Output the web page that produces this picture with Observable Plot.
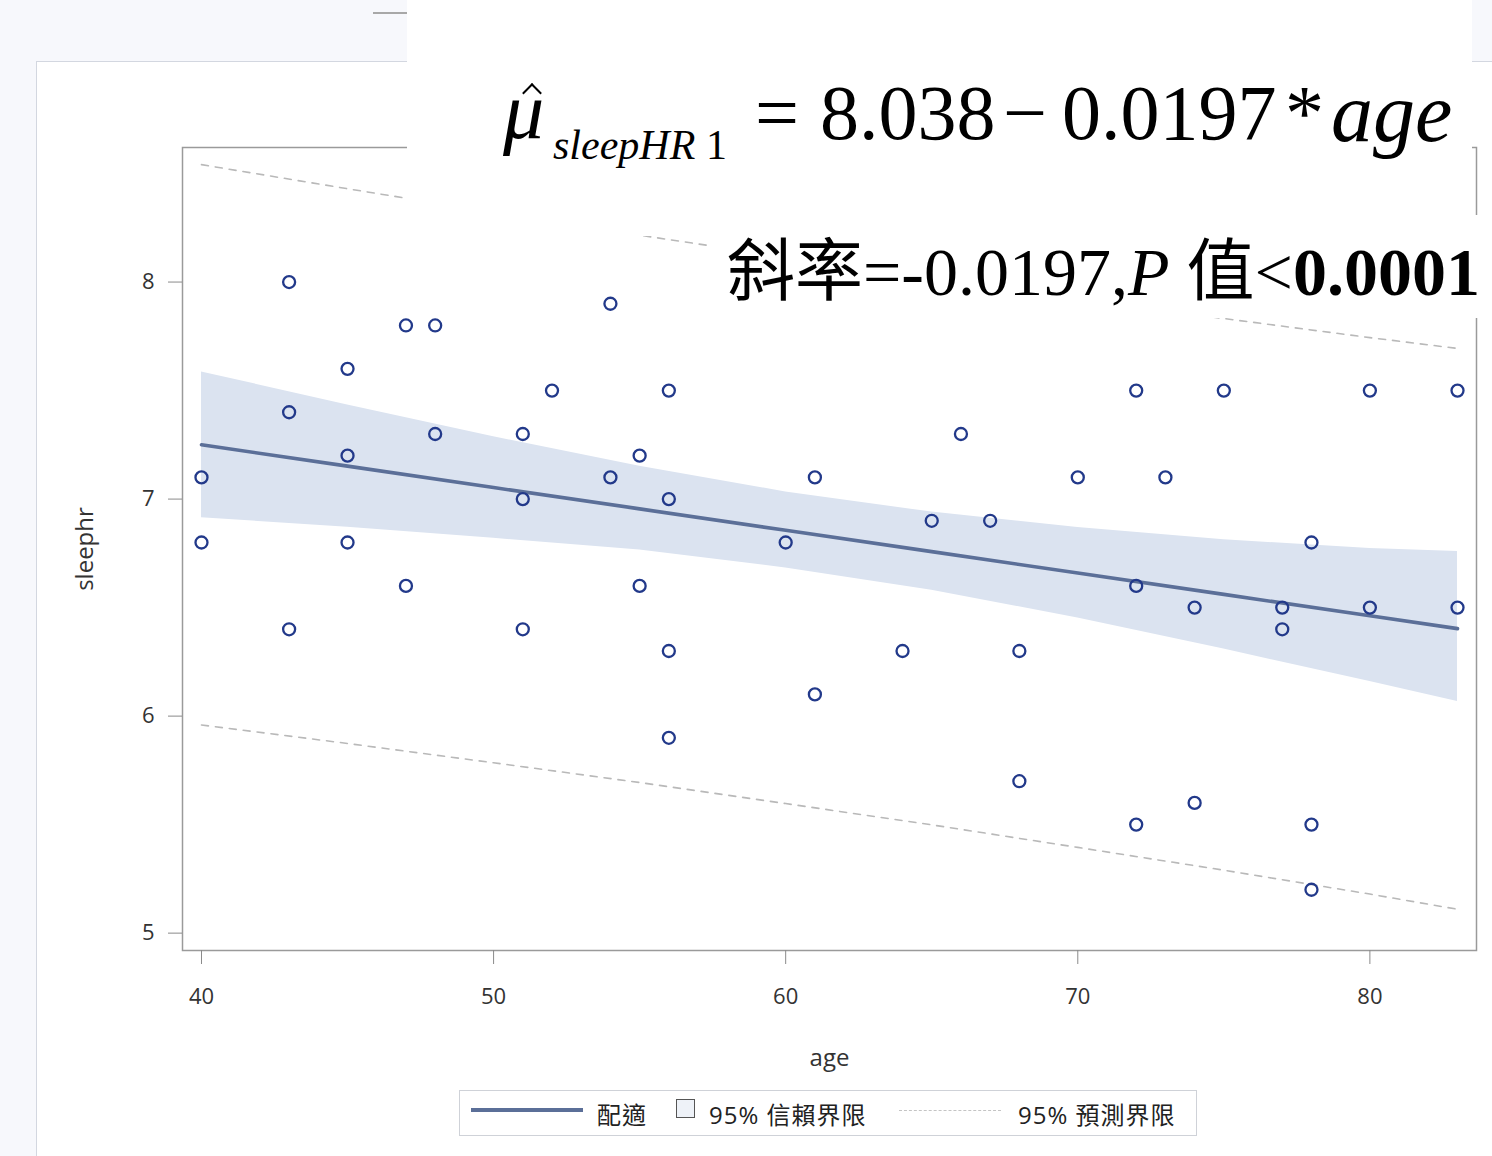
<!DOCTYPE html>
<html>
<head>
<meta charset="utf-8">
<script src="https://cdn.jsdelivr.net/npm/d3@7"></script>
<script src="https://cdn.jsdelivr.net/npm/@observablehq/plot@0.6"></script>
<style>
  html, body { margin: 0; padding: 0; }
  body { width: 1492px; height: 1156px; background: #f7f8fc; position: relative; overflow: hidden; font-family: "Open Sans", "Noto Sans CJK TC", sans-serif; }
  #outer { position: absolute; left: 36px; top: 61px; width: 1500px; height: 1200px; background: #fff; border-left: 1.5px solid #d3d7e0; border-top: 1.5px solid #d3d7e0; }
  #chart { position: absolute; left: 0; top: 0; }
  .box { position: absolute; background: #fff; }
  .ser { font-family: "Liberation Serif", "Noto Sans CJK TC", serif; color: #000; position: absolute; white-space: nowrap; line-height: 1; }
  #legend { position: absolute; left: 459px; top: 1090px; width: 736px; height: 44px; border: 1.5px solid #cfd2d8; background: #fff; font-family: "Open Sans", "Noto Sans CJK TC", sans-serif; font-size: 24px; color: #222; }
  #legend .t { position: absolute; top: 5px; white-space: nowrap; letter-spacing: 1px; }
</style>
</head>
<body>
<div id="outer"></div>
<div class="box" style="left:373px;top:12px;width:34px;height:2px;background:#a8a8a8"></div>
<div id="chart"></div>

<script>
// observed data (age, sleephr)
const ages = [40,40,43,43,43,45,45,45,47,47,48,48,51,51,51,52,54,54,55,55,56,56,56,56,60,61,61,64,65,66,67,68,68,70,72,72,72,73,74,74,75,77,77,78,78,78,80,80,83,83];
const sleephr = [7.1,6.8,8.0,7.4,6.4,7.6,7.2,6.8,7.8,6.6,7.8,7.3,7.3,7.0,6.4,7.5,7.9,7.1,7.2,6.6,7.5,7.0,6.3,5.9,6.8,7.1,6.1,6.3,6.9,7.3,6.9,6.3,5.7,7.1,7.5,6.6,5.5,7.1,6.5,5.6,7.5,6.5,6.4,6.8,5.5,5.2,7.5,6.5,7.5,6.5];

// fitted line and limits
const bandAge  = [40, 45, 50, 55, 60, 65, 70, 75, 80, 83];
const fitValue = [7.250, 7.152, 7.053, 6.955, 6.856, 6.758, 6.659, 6.561, 6.462, 6.403];
const clUpper  = [7.586, 7.434, 7.287, 7.151, 7.033, 6.940, 6.869, 6.813, 6.772, 6.758];
const clLower  = [6.914, 6.870, 6.819, 6.765, 6.683, 6.580, 6.452, 6.309, 6.159, 6.067];
const piUpper  = [8.541, 8.430, 8.321, 8.216, 8.115, 8.017, 7.923, 7.832, 7.744, 7.694];
const piLower  = [5.959, 5.874, 5.785, 5.694, 5.597, 5.499, 5.395, 5.290, 5.180, 5.110];

const xTicks = [40, 50, 60, 70, 80];
const yTicks = [5, 6, 7, 8];

const points = ages.map((a, i) => ({age: a, sleephr: sleephr[i]}));
const band = bandAge.map((a, i) => ({age: a, fit: fitValue[i], clU: clUpper[i], clL: clLower[i], piU: piUpper[i], piL: piLower[i]}));

const plot = Plot.plot({
  width: 1492,
  height: 1156,
  marginLeft: 182,
  marginRight: 16,
  marginTop: 147,
  marginBottom: 206,
  style: {background: "transparent", color: "#333", fontFamily: "'Open Sans', sans-serif", overflow: "visible"},
  x: {domain: [39.35, 83.65]},
  y: {domain: [4.92, 8.62]},
  marks: [
    Plot.areaY(band, {x: "age", y1: "clL", y2: "clU", fill: "#dbe3f0"}),
    Plot.lineY(band, {x: "age", y: "piU", stroke: "#b9b9b9", strokeWidth: 1.6, strokeDasharray: "7,7"}),
    Plot.lineY(band, {x: "age", y: "piL", stroke: "#b9b9b9", strokeWidth: 1.6, strokeDasharray: "7,7"}),
    Plot.lineY(band, {x: "age", y: "fit", stroke: "#5b6f98", strokeWidth: 3.6}),
    Plot.dot(points, {x: "age", y: "sleephr", r: 6, stroke: "#22398a", strokeWidth: 2.3, fill: "none"}),
    Plot.frame({stroke: "#9a9a9a", strokeWidth: 1.5}),
    Plot.axisX({ticks: xTicks, tickFormat: d => String(d), tickSize: 14, tickPadding: 24, fontSize: 22, label: null, stroke: "#8a8a8a", fill: "#333"}),
    Plot.axisY({ticks: yTicks, tickFormat: d => String(d), tickSize: 14, tickPadding: 14, fontSize: 22, label: null, stroke: "#8a8a8a", fill: "#333"}),
    Plot.text(["age"], {frameAnchor: "bottom", dy: 108, fontSize: 24, fill: "#333", lineAnchor: "middle", textAnchor: "middle"}),
    Plot.text(["sleephr"], {frameAnchor: "left", dx: -97, rotate: -90, fontSize: 24, fill: "#333", lineAnchor: "middle", textAnchor: "middle"})
  ]
});
document.getElementById("chart").appendChild(plot);
</script>

<div class="box" style="left:407px;top:0px;width:1065px;height:236px;">
  <span class="ser" style="left:96px;top:70px;font-size:82px;font-style:italic;">μ</span>
  <div style="position:absolute;left:118px;top:86px;width:12px;height:12px;border-top:2.5px solid #000;border-left:2.5px solid #000;transform:rotate(45deg);"></div>
  <span class="ser" style="left:146px;top:124px;font-size:42px;font-style:italic;">sleepHR</span>
  <span class="ser" style="left:299px;top:124px;font-size:42px;">1</span>
  <span class="ser" style="left:348px;top:74px;font-size:78px;">=</span>
  <span class="ser" style="left:413px;top:74px;font-size:78px;">8.038</span>
  <span class="ser" style="left:596px;top:74px;font-size:78px;">−</span>
  <span class="ser" style="left:655px;top:74px;font-size:78px;">0.0197</span>
  <span class="ser" style="left:878px;top:74px;font-size:78px;">*</span>
  <span class="ser" style="left:924px;top:71px;font-size:84px;font-style:italic;">age</span>
</div>
<div class="box" style="left:712px;top:215px;width:768px;height:103px;">
  <span class="ser" style="left:15px;top:23px;font-size:68px;">斜率=-0.0197,<i>P</i> 值&lt;<b>0.0001</b></span>
</div>

<div id="legend">
  <div style="position:absolute;left:11px;top:17px;width:112px;height:3.5px;background:#5b6f98"></div>
  <span class="t" style="left:137px">配適</span>
  <div style="position:absolute;left:216px;top:8px;width:17px;height:17px;border:1.5px solid #555;background:#eef2f8"></div>
  <span class="t" style="left:249px">95% 信賴界限</span>
  <div style="position:absolute;left:439px;top:19px;width:102px;height:0;border-top:1.5px dashed #c4c4c4"></div>
  <span class="t" style="left:558px">95% 預測界限</span>
</div>
</body>
</html>
